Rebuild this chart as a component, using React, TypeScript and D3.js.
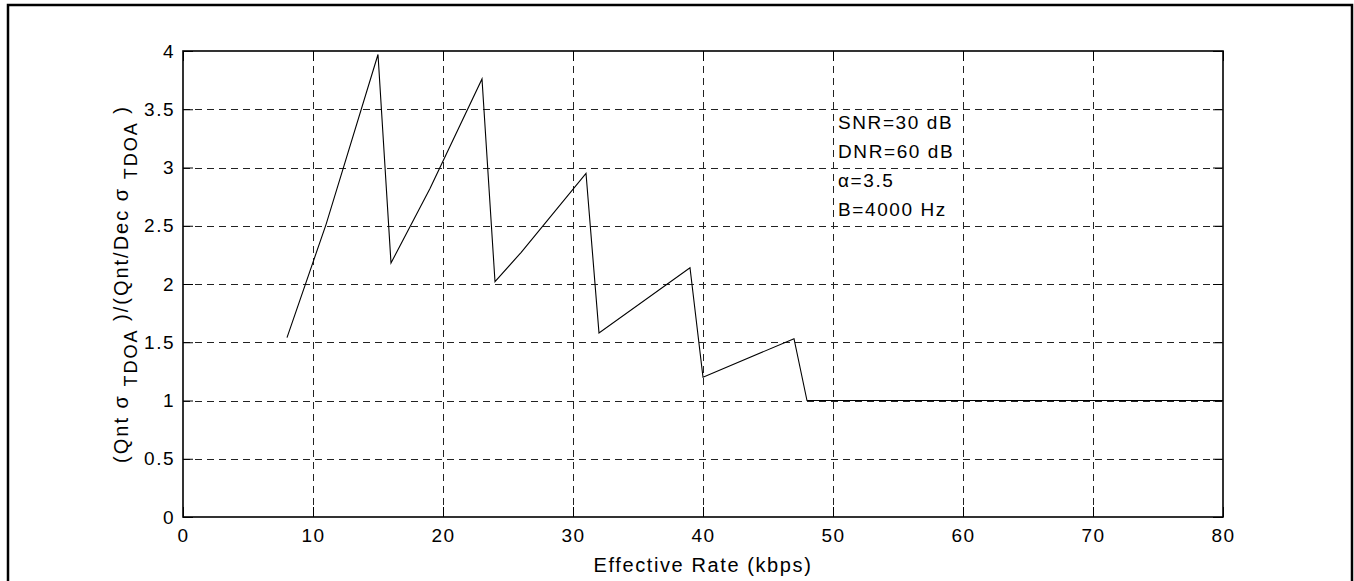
import React, { useEffect, useRef } from 'react';
import * as d3 from 'd3';

// effective rate (kbps) and ratio of TDOA std devs
const rates = [8, 11, 15, 16, 19, 23, 24, 26, 31, 32, 39, 40, 47, 48, 80];
const ratios = [1.54, 2.51, 3.97, 2.18, 2.82, 3.76, 2.02, 2.27, 2.95, 1.58, 2.14, 1.2, 1.53, 1.0, 1.0];

const xTicks = [0, 10, 20, 30, 40, 50, 60, 70, 80];
const yTicks = [0, 0.5, 1, 1.5, 2, 2.5, 3, 3.5, 4];
const notes = ['SNR=30 dB', 'DNR=60 dB', 'α=3.5', 'B=4000 Hz'];

const FONT = '"Liberation Sans", Arial, Helvetica, sans-serif';

const App = () => {
  const ref = useRef<SVGSVGElement | null>(null);

  useEffect(() => {
    document.body.style.margin = '0';
    const svg = d3.select(ref.current);
    svg.selectAll('*').remove();

    const x = d3.scaleLinear().domain([0, 80]).range([183, 1223]);
    const y = d3.scaleLinear().domain([0, 4]).range([517, 51]);

    svg.append('rect').attr('width', 1354).attr('height', 581).attr('fill', '#fff');

    // outer figure border
    svg.append('rect')
      .attr('x', 8).attr('y', 5).attr('width', 1344).attr('height', 600)
      .attr('fill', 'none').attr('stroke', '#000').attr('stroke-width', 2.5);

    // grid
    const grid = svg.append('g').attr('stroke', '#222').attr('stroke-width', 1).attr('stroke-dasharray', '7,5');
    grid.selectAll('line.v')
      .data(xTicks.slice(1, -1))
      .join('line')
      .attr('x1', d => Math.round(x(d)) + 0.5).attr('x2', d => Math.round(x(d)) + 0.5)
      .attr('y1', y(0)).attr('y2', y(4));
    grid.selectAll('line.h')
      .data(yTicks.slice(1, -1))
      .join('line')
      .attr('y1', d => Math.round(y(d)) + 0.5).attr('y2', d => Math.round(y(d)) + 0.5)
      .attr('x1', x(0)).attr('x2', x(80));

    const styleAxis = (g: any) => {
      g.select('.domain').remove();
      g.selectAll('line').attr('stroke', '#000').attr('stroke-width', 1);
      g.selectAll('text')
        .attr('fill', '#000')
        .style('font-family', FONT)
        .style('font-size', '19px')
        .style('letter-spacing', '1.5px');
    };

    svg.append('g')
      .attr('transform', `translate(0,${y(0)})`)
      .call(d3.axisBottom(x).tickValues(xTicks).tickSizeInner(-10).tickSizeOuter(0).tickPadding(12).tickFormat(d3.format('d')))
      .call(styleAxis);

    svg.append('g')
      .attr('transform', `translate(0,${y(4)})`)
      .call(d3.axisTop(x).tickValues(xTicks).tickSizeInner(-10).tickSizeOuter(0).tickFormat(() => ''))
      .call(styleAxis);

    svg.append('g')
      .attr('transform', `translate(${x(0)},0)`)
      .call(d3.axisLeft(y).tickValues(yTicks).tickSizeInner(-10).tickSizeOuter(0).tickPadding(8).tickFormat(d3.format('')))
      .call(styleAxis);

    svg.append('g')
      .attr('transform', `translate(${x(80)},0)`)
      .call(d3.axisRight(y).tickValues(yTicks).tickSizeInner(-10).tickSizeOuter(0).tickFormat(() => ''))
      .call(styleAxis);

    // plot box
    svg.append('rect')
      .attr('x', x(0)).attr('y', y(4))
      .attr('width', x(80) - x(0)).attr('height', y(0) - y(4))
      .attr('fill', 'none').attr('stroke', '#000').attr('stroke-width', 1.6);

    // data line
    const line = d3.line<number>()
      .x((d, i) => x(rates[i]))
      .y(d => y(d));
    svg.append('path')
      .datum(ratios)
      .attr('fill', 'none')
      .attr('stroke', '#000')
      .attr('stroke-width', 1.1)
      .attr('d', line);

    // annotation
    svg.append('g')
      .selectAll('text')
      .data(notes)
      .join('text')
      .attr('x', 838)
      .attr('y', (d, i) => 129 + i * 29)
      .attr('fill', '#000')
      .style('font-family', FONT)
      .style('font-size', '19px')
      .style('letter-spacing', '1.6px')
      .text(d => d);

    // x label
    svg.append('text')
      .attr('x', (x(0) + x(80)) / 2)
      .attr('y', 572)
      .attr('text-anchor', 'middle')
      .style('font-family', FONT)
      .style('font-size', '20px')
      .style('letter-spacing', '1.6px')
      .text('Effective Rate (kbps)');

    // y label with subscripts
    const yl = svg.append('text')
      .attr('transform', `translate(128,${(y(0) + y(4)) / 2}) rotate(-90)`)
      .attr('text-anchor', 'middle')
      .style('font-family', FONT)
      .style('font-size', '20px')
      .style('letter-spacing', '2px');
    const parts: [string, boolean][] = [
      ['(Qnt σ ', false], ['TDOA', true], [' )/(Qnt/Dec σ ', false], ['TDOA', true], [' )', false],
    ];
    let prevSub = false;
    parts.forEach(([t, sub]) => {
      const dy = sub && !prevSub ? 9 : !sub && prevSub ? -9 : 0;
      yl.append('tspan')
        .attr('dy', dy)
        .style('font-size', sub ? '18px' : '20px')
        .text(t);
      prevSub = sub;
    });
  }, []);

  return <svg ref={ref} width={1354} height={581} style={{ display: 'block' }} />;
};

export default App;
